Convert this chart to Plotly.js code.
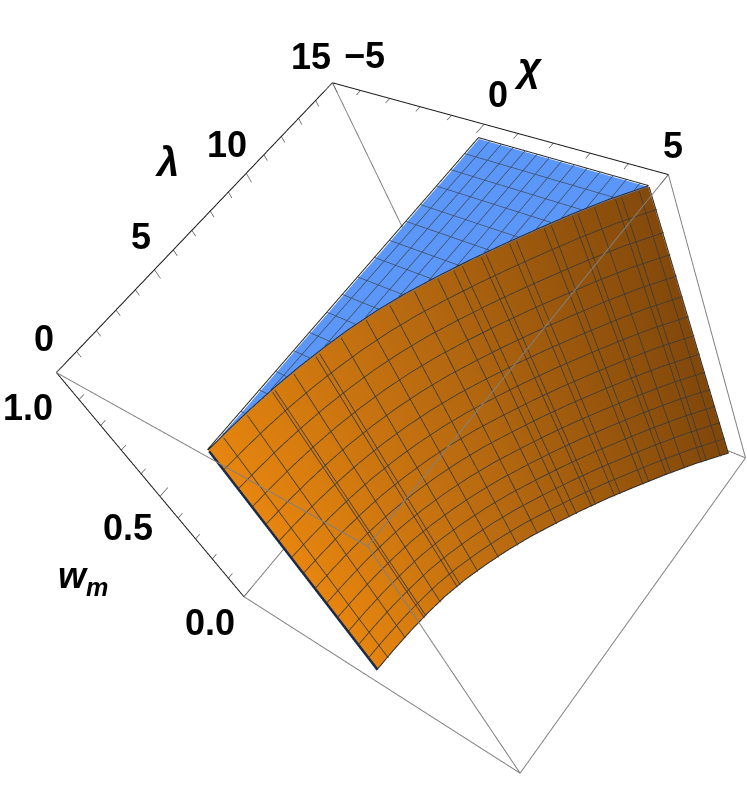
<!DOCTYPE html>
<html><head><meta charset="utf-8"><script src="https://cdn.plot.ly/plotly-3.0.1.min.js"></script>
<style>html,body{margin:0;background:#fff;overflow:hidden;width:747px;height:806px}#p{position:absolute;left:-136px;top:-161px;width:1062px;height:1146px}</style></head><body>
<div id="p"></div>
<script>
const gridIndex=[0,1,2,3,4,5,6,7,8,9,10,11,12,13,14,15];
const lamTop=[0.2,1.15,2.09,3.04,3.99,4.93,5.88,6.83,7.77,8.72,9.67,10.61,11.56,12.51,13.45,14.4];
const chiTop=[0.25,0.31,0.39,0.5,0.64,0.81,1.01,1.26,1.56,1.92,2.31,2.73,3.18,3.65,4.16,4.76];
const lamBot=[0.4,1.37,2.33,3.3,4.27,5.23,6.2,7.17,8.13,9.1,10.07,11.03,12,12.97,13.93,14.9];
const chiBot=[0.01,0.04,0.09,0.17,0.28,0.45,0.68,0.95,1.26,1.63,2.02,2.44,2.91,3.4,3.92,4.51];
const chiLeft=[0.25,0.24,0.24,0.23,0.22,0.21,0.21,0.2,0.19,0.19,0.18,0.17,0.16,0.16,0.15,0.14];
const meshIndex=[0.63,1.69,2.8,2.9,3.7,4.6,4.75,5.6,6.55,7.4,8.24,9,9.5,9.77,10.35,10.5,11.2,11.4,12.2,12.4,13,13.15,13.6,14.15,14.3,14.73];
const meshWm=[0.929,0.857,0.786,0.714,0.643,0.571,0.5,0.429,0.357,0.286,0.214,0.143,0.071];
const blueLam=[13.6,12.8,12,11.1,10.3,9.4,8.6,7.7,6.9,6.1,5.2,4.4,3.5,2.7,1.8,0.9];
const blueChi=[0.48,0.82,1.16,1.5,1.84,2.18,2.52,2.86,3.2,3.54,3.88,4.22,4.56];
const chiTicks=[-5,-4,-3,-2,-1,0,1,2,3,4,5];
const lamTicks=[0,1,2,3,4,5,6,7,8,9,10,11,12,13,14,15];
const wmTicks=[0,0.1,0.2,0.3,0.4,0.5,0.6,0.7,0.8,0.9,1];

const flat={ambient:1,diffuse:0,specular:0,roughness:1,fresnel:0};
const topZ=0.995;
function at(arr,n){const i=Math.min(Math.floor(n),14),f=n-i;return arr[i]*(1-f)+arr[i+1]*f;}
function wallPoint(n,w){const f=w/topZ;return [at(chiBot,n)*(1-f)+at(chiTop,n)*f,at(lamBot,n)*(1-f)+at(lamTop,n)*f,w];}
function topChiAtLam(l){for(let k=0;k<15;k++){if(l<=lamTop[k+1]){const f=(l-lamTop[k])/(lamTop[k+1]-lamTop[k]);return chiTop[k]*(1-f)+chiTop[k+1]*f;}}return chiTop[15];}
function topLamAtChi(c){for(let k=0;k<15;k++){if(c<=chiTop[k+1]){const f=(c-chiTop[k])/(chiTop[k+1]-chiTop[k]);return lamTop[k]*(1-f)+lamTop[k+1]*f;}}return lamTop[15];}
function leftChiAtLam(l){return at(chiLeft,(l-0.2)/0.947);}
function lineTrace(segs,color,width){const x=[],y=[],z=[];segs.forEach(s=>{s.forEach(p=>{x.push(p[0]);y.push(p[1]);z.push(p[2])});x.push(null);y.push(null);z.push(null)});
 return {type:'scatter3d',mode:'lines',x,y,z,line:{color,width},hoverinfo:'skip',showlegend:false,connectgaps:false};}

const traces=[];
traces.push({type:'surface',showscale:false,hoverinfo:'skip',
 x:[chiBot,chiTop],y:[lamBot,lamTop],z:[gridIndex.map(()=>0),gridIndex.map(()=>topZ)],
 surfacecolor:[lamBot,lamTop],cmin:0,cmax:15,
 colorscale:[[0,'#E8860F'],[0.5,'#B86A10'],[1,'#80470A']],lighting:flat});
traces.push({type:'surface',showscale:false,hoverinfo:'skip',
 x:[chiLeft,chiTop],y:[lamTop,lamTop],z:[gridIndex.map(()=>topZ),gridIndex.map(()=>topZ)],
 surfacecolor:[gridIndex.map(()=>0),gridIndex.map(()=>0)],cmin:0,cmax:1,
 colorscale:[[0,'#5B97F8'],[1,'#5B97F8']],lighting:flat});

const off=0.05;
const shift=p=>[p[0]+off,p[1],p[2]];
const wallSegs=[];
meshIndex.forEach(n=>wallSegs.push([shift(wallPoint(n,0)),shift(wallPoint(n,topZ))]));
meshWm.forEach(w=>wallSegs.push(gridIndex.map(n=>shift(wallPoint(n,w)))));
traces.push(lineTrace(wallSegs,'#3a3a3a',1.6));

const blueSegs=[];
blueLam.forEach(l=>blueSegs.push([[leftChiAtLam(l),l,0.999],[topChiAtLam(l),l,0.999]]));
blueChi.forEach(c=>blueSegs.push([[c,topLamAtChi(c),0.999],[c,lamTop[15],0.999]]));
traces.push(lineTrace(blueSegs,'#3f4a5c',1.4));

traces.push(lineTrace([
 [[chiLeft[0],lamTop[0],0.999],[chiLeft[15],lamTop[15],0.999],[chiTop[15],lamTop[15],0.999]],
 gridIndex.map(n=>[chiTop[n]+0.02,lamTop[n],0.999]),
 gridIndex.map(n=>[chiBot[n]+0.02,lamBot[n],0.001]),
 [[chiTop[15]+0.02,lamTop[15],topZ],[chiBot[15]+0.02,lamBot[15],0]]],'#2a2a2a',2));
traces.push(lineTrace([[[chiBot[0]+0.03,lamBot[0],0],[chiTop[0]+0.03,lamTop[0],topZ]]],'#1c2a44',5));

traces.push(lineTrace([[[5,0,1],[-5,0,1]],[[5,0,1],[5,15,1]],[[5,0,1],[5,0,0]],[[5,0,0],[-5,0,0]],[[5,0,0],[5,15,0]],[[5,15,0],[5,15,1]],[[-5,15,0],[-5,15,1]],[[-5,15,0],[-5,0,0]],[[-5,15,0],[5,15,0]]],'#808080',2));
traces.push(lineTrace([[[-5,0,1],[-5,15,1]],[[-5,15,1],[5,15,1]],[[-5,0,1],[-5,0,0]]],'#1a1a1a',2));
const tk=[];
chiTicks.forEach(c=>tk.push([[c,15,1],[c,c%5?14.75:14.55,1]]));
lamTicks.forEach(l=>tk.push([[-5,l,1],[-5,l,l%5?0.98:0.97]]));
wmTicks.forEach((w,i)=>tk.push([[-5,0,w],[-5,i%5?0.25:0.45,w]]));
traces.push(lineTrace(tk,'#555555',1.4));

const fam='"Liberation Sans",Arial,sans-serif';
const font={family:fam,size:36,color:'#000'};
const big={family:fam,size:40,color:'#000'};
function ann(x,y,z,text,xs,ys,f){return {x,y,z,text,showarrow:false,xanchor:'center',yanchor:'middle',xshift:xs,yshift:ys,font:f||font};}
const annos=[ann(-5,0,1,'<b>0</b>',-12,34),ann(-5,5,1,'<b>5</b>',-13,33),ann(-5,10,1,'<b>10</b>',-19,29),ann(-5,15,1,'<b>15</b>',-21,26),
 ann(-5,15,1,'<b>\u22125</b>',32,27),ann(0,15,1,'<b>0</b>',14,30),ann(5,15,1,'<b>5</b>',5,29),
 ann(-5,0,1,'<b>1.0</b>',-28,-35),ann(-5,0,0.5,'<b>0.5</b>',-32,-31),ann(-5,0,0,'<b>0.0</b>',-34,-26),
 ann(0,15,1,'<b><i>\u03c7</i></b>',44,57,big),ann(-5,7.5,1,'<b><i>\u03bb</i></b>',-34,59,big),ann(-5,0,0.5,'<b><i>w<sub>m</sub></i></b>',-77,-82)];
const axis=r=>({range:r,showgrid:false,showbackground:false,showticklabels:false,title:{text:''},showline:false,zeroline:false,ticks:'',showspikes:false});
Plotly.newPlot('p',traces,{width:1062,height:1146,margin:{l:0,r:0,t:0,b:0},showlegend:false,paper_bgcolor:'rgba(0,0,0,0)',
 scene:{domain:{x:[0,1],y:[0,1]},aspectmode:'manual',aspectratio:{x:0.994,y:0.999,z:1.007},
 xaxis:axis([-5,5]),yaxis:axis([0,15]),zaxis:axis([0,1]),annotations:annos,
 camera:{eye:{x:1.985,y:-1.083,z:2.452},center:{x:-0.115,y:0,z:-0.04},up:{x:-0.45,y:0.92,z:0.696}}}},{displayModeBar:false});
</script></body></html>
